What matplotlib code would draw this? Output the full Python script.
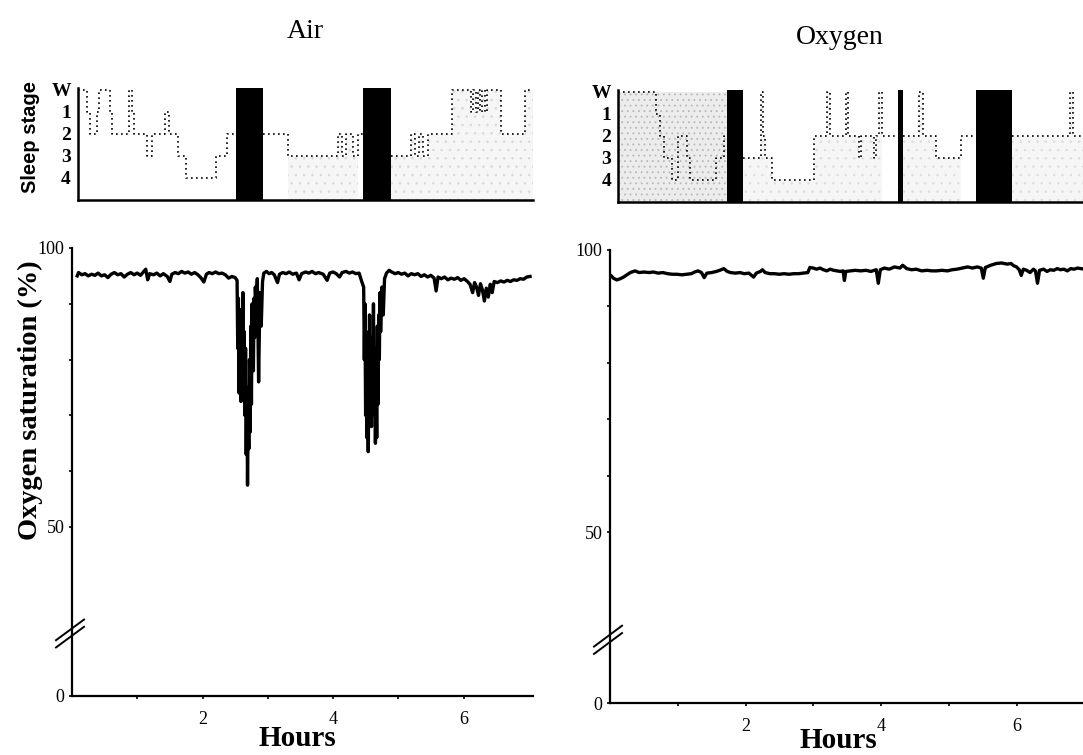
import numpy as np
import matplotlib
matplotlib.use("Agg")
import matplotlib.pyplot as plt

plt.rcParams['font.family'] = ['Liberation Serif', 'DejaVu Serif']
plt.rcParams['hatch.linewidth'] = 0.6

# ---------------- data ----------------
titles = ["Air", "Oxygen"]
stage_labels = ["W", "1", "2", "3", "4"]
hour_ticks = [2, 4, 6]
spo2_tick_labels = ["0", "50", "100"]

# Hypnogram (0 = W, 1..4 = stages; nan = REM, drawn as black bars)
air_stage_t = [0.09, 0.23, 0.28, 0.38, 0.42, 0.58, 0.62, 0.88, 0.92, 0.95, 1.15, 1.23, 1.43, 1.48,
               1.62, 1.74, 2.20, 2.38, 2.52, 2.92, 3.31, 4.08, 4.14, 4.20, 4.30, 4.38, 4.46, 4.89,
               5.20, 5.26, 5.32, 5.38, 5.45, 5.82, 6.12, 6.15, 6.19, 6.22, 6.26, 6.29, 6.33, 6.36,
               6.58, 6.94, 7.07]
air_stage = [0, 1, 2, 1, 0, 1, 2, 0, 1, 2, 3, 2, 1, 2,
             3, 4, 3, 2, np.nan, 2, 3, 2, 3, 2, 3, 2, np.nan, 3,
             2, 3, 2, 3, 2, 0, 1, 0, 1, 0, 1, 0, 1, 0,
             2, 0, 0]
air_rem_start = [2.52, 4.46]
air_rem_end = [2.92, 4.89]

ox_stage_t = [0.12, 0.68, 0.74, 0.80, 0.92, 1.00, 1.14, 1.18, 1.56, 1.68, 1.73, 1.96, 2.23, 2.26,
              2.29, 2.39, 3.01, 3.20, 3.24, 3.48, 3.52, 3.68, 3.71, 3.90, 3.93, 3.97, 4.01, 4.25,
              4.32, 4.56, 4.62, 4.81, 5.18, 5.40, 5.93, 6.79, 6.83, 6.98]
ox_stage = [0, 1, 2, 3, 4, 2, 3, 4, 3, 2, np.nan, 3, 0, 2,
            3, 4, 2, 0, 2, 0, 2, 3, 2, 3, 2, 0, 2, np.nan,
            2, 0, 2, 3, 2, np.nan, 2, 0, 2, 2]
ox_rem_start = [1.73, 4.25, 5.40]
ox_rem_end = [1.96, 4.32, 5.93]

# Oxygen saturation traces (hours, %)
air_t = [0.08, 0.10, 0.15, 0.20, 0.25, 0.30, 0.35, 0.40, 0.45, 0.50, 0.55, 0.60, 0.65, 0.70, 0.75,
         0.80, 0.85, 0.90, 0.95, 1.00, 1.05, 1.10, 1.13, 1.16, 1.19, 1.25, 1.30, 1.35, 1.40, 1.46,
         1.50, 1.53, 1.58, 1.63, 1.68, 1.73, 1.78, 1.83, 1.88, 1.93, 1.98, 2.02, 2.06, 2.10, 2.15,
         2.20, 2.25, 2.30, 2.35, 2.40, 2.45, 2.50, 2.53, 2.54, 2.55, 2.56, 2.57, 2.58, 2.59, 2.60,
         2.61, 2.62, 2.63, 2.64, 2.65, 2.66, 2.67, 2.68, 2.69, 2.70, 2.71, 2.72, 2.73, 2.74, 2.75,
         2.76, 2.77, 2.78, 2.79, 2.80, 2.81, 2.82, 2.84, 2.86, 2.88, 2.90, 2.92, 2.94, 2.98, 3.02,
         3.06, 3.10, 3.15, 3.18, 3.23, 3.28, 3.33, 3.38, 3.44, 3.48, 3.52, 3.58, 3.63, 3.68, 3.73,
         3.78, 3.85, 3.91, 3.95, 4.00, 4.05, 4.10, 4.14, 4.20, 4.25, 4.30, 4.35, 4.40, 4.44, 4.47,
         4.48, 4.49, 4.50, 4.51, 4.52, 4.53, 4.54, 4.55, 4.56, 4.57, 4.58, 4.59, 4.60, 4.61, 4.62,
         4.63, 4.64, 4.65, 4.66, 4.67, 4.68, 4.69, 4.70, 4.71, 4.72, 4.73, 4.75, 4.77, 4.79, 4.82,
         4.86, 4.90, 4.95, 5.00, 5.05, 5.10, 5.15, 5.20, 5.25, 5.30, 5.35, 5.40, 5.45, 5.50, 5.55,
         5.58, 5.61, 5.66, 5.71, 5.76, 5.81, 5.86, 5.91, 5.96, 6.01, 6.06, 6.10, 6.14, 6.17, 6.20,
         6.23, 6.26, 6.29, 6.32, 6.35, 6.38, 6.41, 6.44, 6.47, 6.52, 6.57, 6.62, 6.67, 6.72, 6.77,
         6.82, 6.87, 6.92, 6.97, 7.02]
air_spo2 = [95.0, 95.6, 95.2, 95.4, 95.0, 95.3, 95.1, 95.5, 95.0, 95.2, 94.7, 95.3, 95.6, 95.2, 95.4,
            94.8, 95.3, 95.6, 95.2, 95.5, 95.1, 95.8, 96.2, 94.3, 95.4, 95.2, 95.5, 95.0, 95.4, 94.9,
            94.0, 95.3, 95.6, 95.4, 95.8, 95.5, 95.7, 95.3, 95.6, 95.2, 94.6, 93.9, 95.3, 95.6, 95.4,
            95.7, 95.4, 95.5, 95.2, 94.6, 94.9, 94.7, 94.2, 82.0, 91.0, 74.0, 89.0, 80.0, 72.5, 87.0,
            78.0, 92.0, 76.0, 85.0, 70.0, 82.0, 63.0, 75.0, 57.5, 71.0, 64.0, 80.0, 67.0, 86.0, 72.0,
            90.0, 82.0, 78.0, 91.0, 84.0, 93.0, 89.0, 94.5, 76.0, 92.0, 86.0, 94.0, 95.5, 95.8, 95.4,
            95.6, 95.2, 93.8, 95.3, 95.6, 95.4, 95.7, 95.3, 95.5, 94.3, 95.4, 95.7, 95.5, 95.8, 95.4,
            95.6, 95.3, 94.2, 95.5, 95.7, 95.4, 94.8, 95.6, 95.8, 95.5, 95.7, 95.4, 95.5, 94.0, 93.0,
            80.0, 90.0, 70.0, 85.0, 66.0, 78.0, 63.5, 75.0, 88.0, 72.0, 84.0, 68.0, 80.0, 74.0, 90.0,
            70.0, 82.0, 65.0, 78.0, 66.0, 86.0, 72.0, 88.0, 80.0, 92.0, 85.0, 93.0, 88.0, 94.5, 95.5,
            96.0, 95.7, 95.4, 95.6, 95.3, 95.5, 95.0, 95.4, 95.2, 95.4, 94.9, 95.2, 94.8, 95.1, 94.6,
            92.3, 94.8, 94.5, 94.8, 94.3, 94.6, 94.4, 94.7, 94.2, 94.5, 94.0, 93.5, 92.0, 93.8, 93.0,
            91.5, 93.6, 92.5, 90.5, 92.8, 91.2, 93.5, 92.0, 94.0, 93.8, 94.1, 93.9, 94.2, 94.0, 94.3,
            94.2, 94.5, 94.4, 94.8, 94.9]

ox_t = [0.02, 0.05, 0.10, 0.15, 0.20, 0.25, 0.30, 0.37, 0.43, 0.50, 0.57, 0.64, 0.71, 0.78, 0.85,
        0.92, 0.99, 1.06, 1.13, 1.20, 1.25, 1.30, 1.35, 1.39, 1.43, 1.50, 1.57, 1.62, 1.68, 1.73,
        1.78, 1.85, 1.92, 1.98, 2.05, 2.12, 2.16, 2.22, 2.25, 2.29, 2.36, 2.43, 2.50, 2.57, 2.64,
        2.71, 2.78, 2.85, 2.92, 2.95, 3.00, 3.05, 3.10, 3.15, 3.20, 3.25, 3.30, 3.35, 3.40, 3.44,
        3.46, 3.48, 3.55, 3.62, 3.70, 3.78, 3.85, 3.93, 3.96, 3.99, 4.05, 4.12, 4.20, 4.28, 4.32,
        4.38, 4.45, 4.52, 4.60, 4.68, 4.75, 4.82, 4.90, 4.98, 5.05, 5.12, 5.20, 5.28, 5.35, 5.42,
        5.48, 5.51, 5.54, 5.62, 5.70, 5.78, 5.86, 5.92, 5.96, 6.00, 6.04, 6.07, 6.10, 6.15, 6.20,
        6.25, 6.28, 6.31, 6.34, 6.40, 6.45, 6.50, 6.55, 6.60, 6.65, 6.70, 6.75, 6.80, 6.85, 6.90,
        6.95, 7.00]
ox_spo2 = [95.4, 95.0, 94.7, 94.9, 95.2, 95.6, 96.0, 96.3, 96.0, 96.1, 96.0, 96.1, 95.9, 96.0, 95.8,
           95.7, 95.7, 95.6, 95.7, 95.8, 96.1, 96.3, 96.0, 95.1, 95.9, 96.0, 96.2, 96.4, 96.7, 96.2,
           96.0, 95.9, 96.0, 95.8, 95.9, 95.2, 95.9, 96.2, 96.5, 96.0, 95.8, 95.8, 95.7, 95.8, 95.7,
           95.8, 95.8, 95.9, 96.0, 96.9, 96.8, 96.6, 96.8, 96.5, 96.3, 96.6, 96.4, 96.3, 96.2, 96.3,
           94.6, 96.2, 96.3, 96.4, 96.3, 96.4, 96.2, 96.5, 94.1, 96.5, 96.8, 96.6, 97.0, 96.8, 97.3,
           96.7, 96.5, 96.6, 96.3, 96.4, 96.3, 96.3, 96.4, 96.3, 96.5, 96.6, 96.8, 97.0, 96.8, 97.0,
           96.8, 95.0, 96.9, 97.3, 97.6, 97.7, 97.5, 97.6, 97.2, 97.0, 96.5, 95.5, 96.6, 96.4, 96.0,
           96.6, 96.3, 94.1, 96.4, 96.6, 96.2, 96.5, 96.4, 96.7, 96.5, 96.6, 96.3, 96.7, 96.6, 96.8,
           96.7, 96.6]

# ---------------- layout ----------------
W, H = 1083, 755
fig = plt.figure(figsize=(W / 100, H / 100), dpi=100)


def fx(px):
    return px / W


def fy(py):
    return 1 - py / H


YBOT = 19.7
panels = [
    dict(title=titles[0], tx=305, ty=32, x0=72, x1=533, xmax=(533 - 72) / 65.25,
         hyp_top=87.8, hyp_bot=200, spo_top=248, spo_bot=696, spine0=0.09,
         st=air_stage_t, sv=air_stage, rs=air_rem_start, re=air_rem_end,
         t=air_t, v=air_spo2, hours_x=297, hours_y=739),
    dict(title=titles[1], tx=840, ty=38, x0=610, x1=1083, xmax=(1083 - 610) / 67.75,
         hyp_top=89.8, hyp_bot=202, spo_top=250, spo_bot=703, spine0=0.12,
         st=ox_stage_t, sv=ox_stage, rs=ox_rem_start, re=ox_rem_end,
         t=ox_t, v=ox_spo2, hours_x=838, hours_y=741),
]

for i, p in enumerate(panels):
    # ---- hypnogram ----
    axh = fig.add_axes([fx(p['x0']), fy(p['hyp_bot']), fx(p['x1'] - p['x0']),
                        (p['hyp_bot'] - p['hyp_top']) / H])
    axh.set_xlim(0, p['xmax'])
    axh.set_ylim(5, -0.1)
    st = np.array(p['st'])
    sv = np.array(p['sv'], dtype=float)
    if i == 0:
        mask = st >= 3.3
        axh.fill_between(st, sv, 5, where=mask, step='post', facecolor='#f6f6f6',
                         hatch='..', edgecolor='#d9d9d9', linewidth=0, zorder=1)
    else:
        axh.fill_between([p['spine0'], p['rs'][0]], [0, 0], [5, 5], facecolor='#ececec',
                         hatch='...', edgecolor='#b8b8b8', linewidth=0, zorder=1)
        mask = st >= p['re'][0]
        axh.fill_between(st, sv, 5, where=mask, step='post', facecolor='#f6f6f6',
                         hatch='..', edgecolor='#dddddd', linewidth=0, zorder=1)
    axh.plot(st, sv, drawstyle='steps-post', color='black', lw=1.2,
             linestyle=(0, (1, 2)), zorder=2)
    for a, b in zip(p['rs'], p['re']):
        axh.axvspan(a, b, ymin=0, ymax=1, color='black', zorder=3, lw=0)
    for s in ['top', 'right']:
        axh.spines[s].set_visible(False)
    axh.spines['left'].set_position(('data', p['spine0']))
    axh.spines['left'].set_linewidth(1.8)
    axh.spines['bottom'].set_linewidth(1.8)
    axh.spines['bottom'].set_bounds(p['spine0'], p['xmax'])
    axh.set_xticks([])
    axh.set_yticks(range(5))
    axh.set_yticklabels(stage_labels, fontsize=14, fontweight='bold')
    axh.tick_params(axis='y', length=0, pad=5)

    # ---- oxygen saturation ----
    ax = fig.add_axes([fx(p['x0']), fy(p['spo_bot']), fx(p['x1'] - p['x0']),
                       (p['spo_bot'] - p['spo_top']) / H])
    ax.plot(p['t'], p['v'], color='black', lw=2.4, solid_joinstyle='round')
    ax.set_xlim(0, p['xmax'])
    ax.set_ylim(YBOT, 100)
    for s in ['top', 'right']:
        ax.spines[s].set_visible(False)
    ax.spines['left'].set_linewidth(1.6)
    ax.spines['bottom'].set_linewidth(1.6)
    ax.set_yticks([YBOT, 50, 100])
    ax.set_yticklabels(spo2_tick_labels, fontsize=13)
    ax.set_yticks([60, 70, 80, 90], minor=True)
    ax.set_xticks(hour_ticks)
    ax.set_xticklabels([str(h) for h in hour_ticks], fontsize=13)
    ax.set_xticks([1, 3, 5], minor=True)
    ax.tick_params(axis='both', which='both', direction='out', length=2.5, width=1.2)
    ax.tick_params(axis='y', which='major', pad=3)
    ax.tick_params(axis='x', which='major', pad=8)
    # axis break marks
    tr = ax.get_yaxis_transform()
    dx0 = -16 / (p['x1'] - p['x0'])
    dx1 = 12 / (p['x1'] - p['x0'])
    for off in (0.0, 1.3):
        ax.plot([dx0, dx1], [28.4 + off, 32.1 + off], transform=tr, color='black',
                lw=1.4, clip_on=False)

    fig.text(fx(p['tx']), fy(p['ty']), p['title'], fontsize=20, ha='center', va='center')
    fig.text(fx(p['hours_x']), fy(p['hours_y']), 'Hours', fontsize=21, fontweight='bold',
             ha='center', va='center')

fig.text(fx(30), fy(137), 'Sleep stage', fontsize=14.5, fontweight='bold', rotation=90,
         ha='center', va='center', family=['Liberation Sans', 'DejaVu Sans'])
fig.text(fx(30), fy(400), 'Oxygen saturation (%)', fontsize=20.5, fontweight='bold', rotation=90,
         ha='center', va='center')

fig.savefig('out.png', dpi=100)
